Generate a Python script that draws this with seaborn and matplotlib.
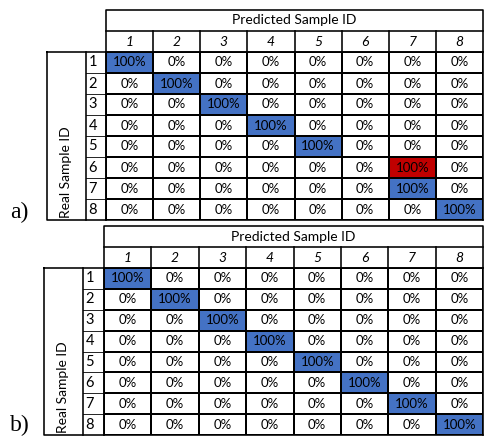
import matplotlib
matplotlib.use('Agg')
import matplotlib.pyplot as plt
import numpy as np
import seaborn as sns
from matplotlib.colors import ListedColormap

sample_ids = ['1', '2', '3', '4', '5', '6', '7', '8']

# percentage of samples (rows = real id, cols = predicted id)
values_a = [
    [100, 0, 0, 0, 0, 0, 0, 0],
    [0, 100, 0, 0, 0, 0, 0, 0],
    [0, 0, 100, 0, 0, 0, 0, 0],
    [0, 0, 0, 100, 0, 0, 0, 0],
    [0, 0, 0, 0, 100, 0, 0, 0],
    [0, 0, 0, 0, 0, 0, 100, 0],
    [0, 0, 0, 0, 0, 0, 100, 0],
    [0, 0, 0, 0, 0, 0, 0, 100],
]
values_b = [
    [100, 0, 0, 0, 0, 0, 0, 0],
    [0, 100, 0, 0, 0, 0, 0, 0],
    [0, 0, 100, 0, 0, 0, 0, 0],
    [0, 0, 0, 100, 0, 0, 0, 0],
    [0, 0, 0, 0, 100, 0, 0, 0],
    [0, 0, 0, 0, 0, 100, 0, 0],
    [0, 0, 0, 0, 0, 0, 100, 0],
    [0, 0, 0, 0, 0, 0, 0, 100],
]
panel_labels = ['a)', 'b)']

FONT = 'Lato'
LW = 1.15
W, H = 484, 437


def draw_table(fig, values, box, label_x, label_y, panel, panel_y):
    left, top, right, bottom = box
    ax = fig.add_axes([left / W, 1 - bottom / H, (right - left) / W, (bottom - top) / H])
    vals = np.array(values)
    n = len(sample_ids)
    # 0 = empty, 1 = correct (diagonal), 2 = misclassified
    codes = np.where(vals > 0, np.where(np.eye(n, dtype=bool), 1, 2), 0)
    annot = np.vectorize(lambda v: f'{v}%')(vals)
    cmap = ListedColormap(['white', '#4472C4', '#C00000'])
    sns.heatmap(codes, ax=ax, cmap=cmap, vmin=-0.5, vmax=2.5, cbar=False,
                annot=annot, fmt='', linewidths=LW, linecolor='black',
                annot_kws={'color': 'black', 'fontsize': 9.5, 'family': FONT},
                xticklabels=False, yticklabels=False)
    ax.set_xlim(0, n)
    ax.set_ylim(n, 0)

    col_w = (right - left) / n
    x_lab = -(left - label_x) / col_w   # start of row-number column
    x_rsi = -(left - label_y) / col_w   # start of "Real Sample ID" column
    kw = dict(color='black', clip_on=False)

    # header block
    ax.plot([0, n, n, 0, 0], [0, 0, -2, -2, 0], lw=LW, **kw)
    ax.plot([0, n], [-1, -1], lw=LW, **kw)
    for j in range(1, n):
        ax.plot([j, j], [-1, 0], lw=LW, **kw)
    ax.text(n / 2, -1.5, 'Predicted Sample ID', ha='center', va='center',
            fontsize=10, family=FONT)
    for j, sid in enumerate(sample_ids):
        ax.text(j + 0.5, -0.5, sid, ha='center', va='center', fontsize=10,
                style='italic', family=FONT)

    # left block
    ax.plot([x_rsi, 0, 0, x_rsi, x_rsi], [0, 0, n, n, 0], lw=LW, **kw)
    ax.plot([x_lab, x_lab], [0, n], lw=LW, **kw)
    for i in range(1, n):
        ax.plot([x_lab, 0], [i, i], lw=0.6, **kw)
    for i, sid in enumerate(sample_ids):
        ax.text(x_lab + 0.05, i + 0.5, sid, ha='left', va='center',
                fontsize=10.5, family=FONT)
    ax.text((x_rsi + x_lab) / 2, n - 0.1, 'Real Sample ID', rotation=90,
            ha='center', va='bottom', fontsize=10, family=FONT)

    for s in ax.spines.values():
        s.set_visible(True)
        s.set_linewidth(LW)

    fig.text(10 / W, 1 - panel_y / H, panel, ha='left', va='baseline',
             fontsize=17, family='Liberation Serif')


fig = plt.figure(figsize=(W / 100, H / 100), dpi=100)
draw_table(fig, values_a, (106, 52, 483, 220), 86, 47, panel_labels[0], 218)
draw_table(fig, values_b, (104, 268, 483, 435), 83, 44, panel_labels[1], 431)
fig.savefig('out.png', dpi=100)
